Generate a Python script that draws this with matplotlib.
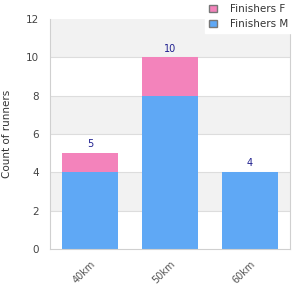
import matplotlib.pyplot as plt
from matplotlib.patches import Patch
import matplotlib.transforms as mtransforms
import numpy as np

categories = ["40km", "50km", "60km"]
finishers_m = [4, 8, 4]
finishers_f = [1, 2, 0]
totals = [5, 10, 4]

pink = "#f383bb"
blue = "#5fa8f5"

fig = plt.figure(figsize=(3, 3), dpi=100)
ax = fig.add_axes([50 / 300, 51 / 300, 240 / 300, 230 / 300])

x = np.arange(len(categories))
ax.set_xlim(-0.5, 2.5)
ax.set_ylim(0, 12)

# alternating bands
for lo in range(0, 12, 2):
    if (lo // 2) % 2 == 1:
        ax.axhspan(lo, lo + 2, color="#f2f2f2", zorder=0, lw=0)
for y in range(2, 12, 2):
    ax.axhline(y, color="#dddddd", lw=0.8, zorder=1)

ax.bar(x, finishers_m, width=0.71, color=blue, zorder=2)
ax.bar(x, finishers_f, width=0.71, bottom=finishers_m, color=pink, zorder=2)

for xi, t in zip(x, totals):
    ax.text(xi, t + 0.2, str(t), ha="center", va="bottom", fontsize=7, color="#1f1f8f")

ax.set_xticks(x)
ax.set_xticklabels(categories, rotation=45, ha="right", rotation_mode="anchor", fontsize=7, color="#555555")
shift = mtransforms.ScaledTranslation(-4 / 100, 0, fig.dpi_scale_trans)
for lbl in ax.get_xticklabels():
    lbl.set_transform(lbl.get_transform() + shift)
ax.set_yticks(range(0, 13, 2))
ax.tick_params(axis="y", labelsize=7.5, colors="#444444", length=0, pad=8)
ax.tick_params(axis="x", length=0, pad=7)
for s in ["left", "bottom", "right"]:
    ax.spines[s].set_color("#d0d0d0")
ax.spines["top"].set_visible(False)
ax.set_ylabel("Count of runners", fontsize=7.5, color="#333333", labelpad=10)

handles = [Patch(facecolor=pink, edgecolor="#777777", label="Finishers F"),
           Patch(facecolor=blue, edgecolor="#777777", label="Finishers M")]
fig.legend(handles=handles, loc="upper right", bbox_to_anchor=(0.975, 1.0), fontsize=7.5,
           frameon=True, fancybox=False, edgecolor="white", framealpha=1,
           handlelength=0.7, handleheight=0.7, borderpad=0.4, labelspacing=0.45,
           handletextpad=1.3, borderaxespad=0.0, labelcolor="#333333")

fig.savefig("out.png", dpi=100)
